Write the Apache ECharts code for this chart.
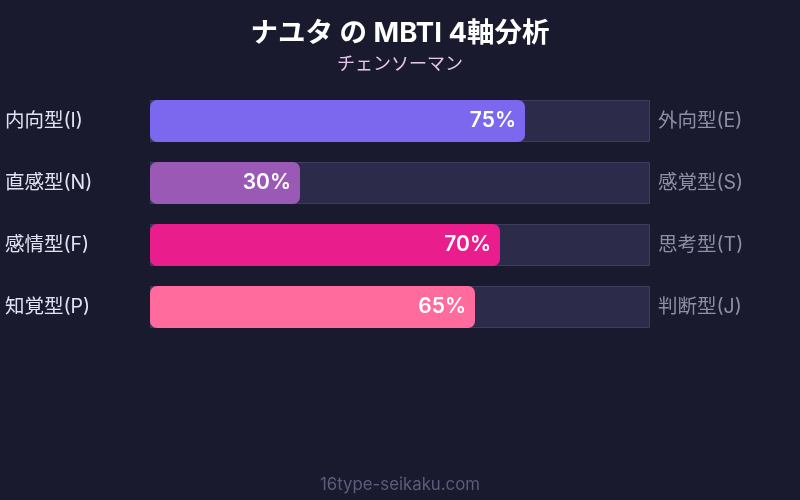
<!DOCTYPE html>
<html><head><meta charset="utf-8">
<script src="https://cdn.jsdelivr.net/npm/echarts@6/dist/echarts.min.js"></script>
<style>html,body{margin:0;padding:0;background:#1a1a2e;}#c{width:800px;height:500px;}</style>
</head><body><div id="c"></div>
<script>
const leftLabels = ['内向型(I)', '直感型(N)', '感情型(F)', '知覚型(P)'];
const rightLabels = ['外向型(E)', '感覚型(S)', '思考型(T)', '判断型(J)'];
const values = [75, 30, 70, 65];
const barColors = ['#7b68ee', '#9b59b6', '#e91e8c', '#ff6b9d'];
const trackValues = [100, 100, 100, 100];

const font = 'Inter, "Noto Sans CJK JP", sans-serif';
const chart = echarts.init(document.getElementById('c'));
chart.setOption({
  backgroundColor: '#1a1a2e',
  animation: false,
  title: {
    text: 'ナユタ の MBTI 4軸分析',
    subtext: 'チェンソーマン',
    left: 'center', top: 15,
    itemGap: 8,
    textStyle: { color: '#ffffff', fontSize: 27.5, fontWeight: 'bold', fontFamily: font },
    subtextStyle: { color: '#e6c6ea', fontSize: 18, fontFamily: font }
  },
  graphic: [{
    type: 'text', left: 'center', top: 477,
    style: { text: '16type-seikaku.com', fill: '#5c5c7c', font: '16.8px ' + font }
  }],
  grid: { left: 150, width: 500, top: 90, height: 248 },
  xAxis: { type: 'value', min: 0, max: 100, show: false },
  yAxis: [{
    type: 'category', data: leftLabels, inverse: true,
    axisLine: { show: false }, axisTick: { show: false },
    axisLabel: { align: 'left', margin: 145, color: '#e2e2f2', fontSize: 19.5, fontFamily: font }
  }, {
    type: 'category', data: rightLabels, inverse: true, position: 'right',
    axisLine: { show: false }, axisTick: { show: false },
    axisLabel: { margin: 8, color: '#8e8ea6', fontSize: 19.5, fontFamily: font }
  }],
  series: [{
    type: 'bar', data: trackValues, barWidth: 42, barGap: '-100%', silent: true,
    itemStyle: { color: '#2c2b4a', borderColor: '#3e3d5e', borderWidth: 1 },
    z: 1
  }, {
    type: 'bar', barWidth: 42, z: 2,
    data: values.map((v, i) => ({ value: v, itemStyle: { color: barColors[i] } })),
    itemStyle: { borderRadius: 7 },
    label: {
      show: true, position: 'insideRight', distance: 9,
      formatter: '{c}%', color: '#ffffff', fontSize: 21, fontWeight: 600, fontFamily: font
    }
  }]
});
</script></body></html>
